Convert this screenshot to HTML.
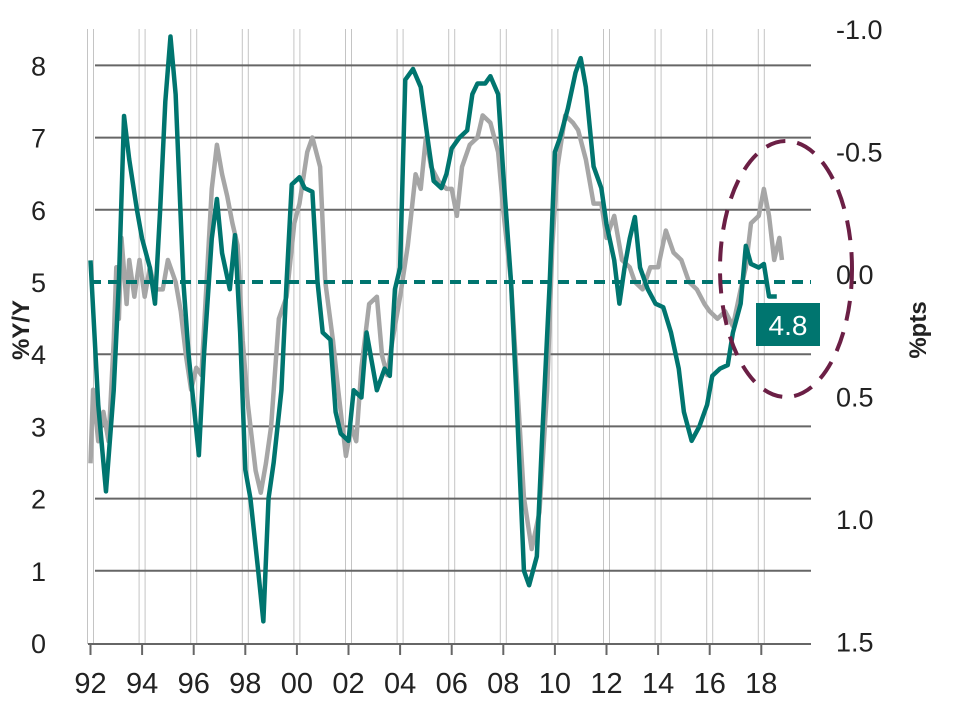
<!DOCTYPE html>
<html><head><meta charset="utf-8"><style>
body{margin:0;background:#fff;}
svg text{font-family:"Liberation Sans",sans-serif;fill:#222;}
</style></head><body>
<svg id="chart" width="955" height="702" viewBox="0 0 955 702">
<g id="grid"></g>
<g id="series"></g>
<g id="axes"></g>
<ellipse cx="786" cy="269" rx="66" ry="128" fill="none" stroke="#6b1f45" stroke-width="4" stroke-dasharray="20,12"/>
<rect x="756" y="303" width="64" height="43" fill="#00756f"/>
<text x="788" y="335" text-anchor="middle" font-size="28" style="fill:#fff">4.8</text>
<text transform="translate(29,330) rotate(-90)" text-anchor="middle" font-size="24" font-weight="bold">%Y/Y</text>
<text transform="translate(926,330) rotate(-90)" text-anchor="middle" font-size="24" font-weight="bold">%pts</text>
</svg>
<script>
const tealYears=[92.0,92.3,92.6,92.9,93.1,93.3,93.5,93.8,94.0,94.3,94.5,94.7,94.9,95.1,95.3,95.6,95.8,96.0,96.2,96.4,96.7,96.9,97.1,97.4,97.6,97.8,98.0,98.2,98.5,98.7,98.9,99.1,99.4,99.6,99.8,100.1,100.3,100.6,100.8,101.0,101.3,101.5,101.7,102.0,102.2,102.5,102.7,102.9,103.1,103.4,103.6,103.8,104.0,104.2,104.5,104.8,105.1,105.3,105.6,105.8,106.0,106.3,106.6,106.8,107.0,107.3,107.5,107.8,108.0,108.3,108.5,108.8,109.0,109.3,109.5,109.8,110.0,110.2,110.5,110.8,111.0,111.2,111.5,111.8,112.0,112.3,112.5,112.7,112.9,113.1,113.3,113.6,113.9,114.2,114.5,114.8,115.0,115.3,115.6,115.9,116.1,116.4,116.7,116.9,117.2,117.4,117.6,117.9,118.1,118.3,118.6];
const tealValues=[5.3,3.3,2.1,3.5,5.0,7.3,6.7,6.0,5.6,5.2,4.7,6.0,7.5,8.4,7.6,5.0,4.0,3.3,2.6,4.0,5.6,6.15,5.4,4.9,5.65,4.3,2.4,2.0,1.0,0.3,2.0,2.5,3.5,5.0,6.35,6.45,6.3,6.25,5.0,4.3,4.2,3.2,2.9,2.8,3.5,3.4,4.3,3.9,3.5,3.8,3.7,4.9,5.2,7.8,7.95,7.7,6.9,6.4,6.3,6.5,6.85,7.0,7.1,7.6,7.75,7.75,7.85,7.6,6.5,5.0,3.5,1.0,0.8,1.2,2.8,5.0,6.8,7.0,7.4,7.9,8.1,7.7,6.6,6.3,5.8,5.3,4.7,5.2,5.6,5.9,5.2,4.9,4.7,4.65,4.3,3.8,3.2,2.8,3.0,3.3,3.7,3.8,3.85,4.3,4.7,5.5,5.25,5.2,5.25,4.8,4.8];
const grayYears=[92.0,92.1,92.3,92.5,92.7,92.9,93.0,93.1,93.2,93.4,93.5,93.7,93.9,94.1,94.3,94.5,94.8,95.0,95.3,95.5,95.7,95.9,96.1,96.3,96.5,96.7,96.9,97.1,97.3,97.5,97.7,97.9,98.1,98.4,98.6,98.8,99.0,99.3,99.6,99.9,100.1,100.4,100.6,100.9,101.1,101.4,101.6,101.9,102.1,102.3,102.5,102.8,103.1,103.3,103.5,103.7,104.0,104.3,104.6,104.8,105.0,105.2,105.5,105.8,106.0,106.2,106.4,106.7,107.0,107.2,107.5,107.8,108.0,108.3,108.5,108.8,109.1,109.4,109.7,109.9,110.1,110.4,110.7,110.9,111.2,111.5,111.8,112.0,112.3,112.6,112.9,113.1,113.4,113.7,114.0,114.3,114.6,114.9,115.2,115.5,115.8,116.0,116.3,116.6,116.9,117.2,117.4,117.6,117.9,118.1,118.3,118.5,118.7,118.8];
const grayValues=[0.74,0.44,0.65,0.53,0.65,0.24,-0.06,0.15,-0.18,0.09,-0.09,0.06,-0.09,0.06,-0.06,0.03,0.03,-0.09,0,0.12,0.30,0.44,0.35,0.38,0,-0.38,-0.56,-0.44,-0.35,-0.24,-0.15,0.24,0.50,0.77,0.86,0.74,0.59,0.15,0.06,-0.24,-0.32,-0.53,-0.59,-0.47,0,0.24,0.44,0.71,0.59,0.65,0.35,0.09,0.06,0.30,0.38,0.24,0.06,-0.15,-0.44,-0.38,-0.59,-0.47,-0.41,-0.38,-0.38,-0.27,-0.47,-0.56,-0.59,-0.68,-0.65,-0.53,-0.29,0,0.35,0.88,1.09,0.94,0.44,-0.15,-0.47,-0.68,-0.65,-0.62,-0.50,-0.32,-0.32,-0.18,-0.27,-0.09,-0.06,0,0.03,-0.06,-0.06,-0.21,-0.12,-0.09,0,0.03,0.09,0.12,0.15,0.12,0.18,0.03,-0.06,-0.24,-0.27,-0.38,-0.27,-0.09,-0.18,-0.09];
const leftTicks=[0,1,2,3,4,5,6,7,8];
const rightTicks=["-1.0","-0.5","0.0","0.5","1.0","1.5"];
const rightTickValues=[-1.0,-0.5,0,0.5,1.0,1.5];
const xTickYears=[92,94,96,98,100,102,104,106,108,110,112,114,116,118];
const xTickLabels=["92","94","96","98","00","02","04","06","08","10","12","14","16","18"];
const refLine=5;

const NS="http://www.w3.org/2000/svg";
const X0=90.5,XPY=25.8,YL0=643,YLP=72.2,YR0=282,YRP=245;
const x=y=>X0+(y-92)*XPY;
const yl=v=>YL0-v*YLP;
const yr=v=>YR0+v*YRP;
function mk(t,a,p){const e=document.createElementNS(NS,t);for(const k in a)e.setAttribute(k,a[k]);p.appendChild(e);return e;}
const grid=document.getElementById('grid'),ser=document.getElementById('series'),ax=document.getElementById('axes');
xTickYears.forEach(yy=>{
 const a=mk('line',{x1:x(yy)-3,x2:x(yy)-3,y1:29,y2:644,stroke:'#c4c4c4','stroke-width':1},grid);
 
 
 const b=mk('line',{x1:x(yy)+3,x2:x(yy)+3,y1:29,y2:644,stroke:'#c4c4c4','stroke-width':1},grid);
 
 
});
leftTicks.forEach(v=>{
 if(v>0&&v!==refLine){const l=mk('line',{x1:95,x2:811,y1:yl(v),y2:yl(v),stroke:'#666','stroke-width':2},grid);
 
 }
 const t=mk('text',{x:46,y:yl(v)+10,'text-anchor':'end','font-size':27},ax);t.textContent=v;
 
 
});
rightTicks.forEach((s,i)=>{
 const t=mk('text',{x:836,y:yr(rightTickValues[i])+2,'font-size':27},ax);t.textContent=s;
 
 
});
const base=mk('line',{x1:88,x2:811,y1:644,y2:644,stroke:'#666','stroke-width':2},ax);


xTickYears.forEach((yy,i)=>{
 const tk=mk('line',{x1:x(yy),x2:x(yy),y1:644,y2:655,stroke:'#666','stroke-width':2},ax);
 
 
 const t=mk('text',{x:x(yy),y:693,'text-anchor':'middle','font-size':29},ax);t.textContent=xTickLabels[i];
 
 
});
const gp=mk('polyline',{points:grayYears.map((yy,i)=>x(yy)+','+yr(grayValues[i])).join(' '),fill:'none',stroke:'#a6a6a6','stroke-width':4.5,'stroke-linejoin':'round'},ser);


const rl=mk('line',{x1:90,x2:811,y1:yl(refLine),y2:yl(refLine),stroke:'#00756f','stroke-width':4,'stroke-dasharray':'11,7'},ser);


const tp=mk('polyline',{points:tealYears.map((yy,i)=>x(yy)+','+yl(tealValues[i])).join(' '),fill:'none',stroke:'#00756f','stroke-width':4.5,'stroke-linejoin':'round'},ser);


</script>
</body></html>
